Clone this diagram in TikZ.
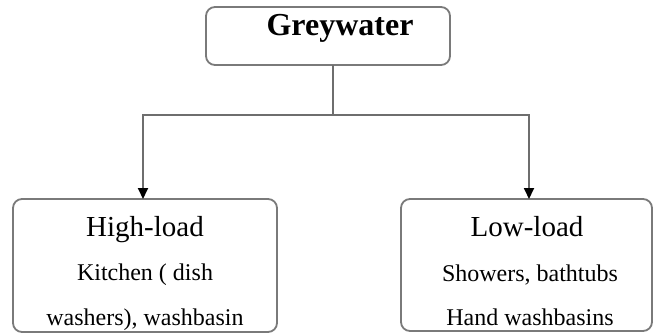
\documentclass[tikz,border=0pt]{standalone}
\usepackage{fontspec}
\setmainfont{Liberation Serif}
\usetikzlibrary{arrows.meta}
\begin{document}
\begin{tikzpicture}[x=1bp,y=-1bp,
  box/.style={draw=boxgrey,line width=1.8bp,rounded corners=9bp,fill=white},
  conn/.style={draw=linegrey,line width=1.8bp},
  arr/.style={conn,-{Triangle[length=11bp,width=10bp,fill=black,color=black]}},
  txt/.style={anchor=base,inner sep=0pt,text=black}]
\definecolor{boxgrey}{HTML}{7A7A7A}
\definecolor{linegrey}{HTML}{6E6E6E}
\useasboundingbox (0,0) rectangle (653,334);
% boxes
\path[box] (206,7) rectangle (450,65);
\coordinate (topS) at (333,65);
\path[box] (13,199) rectangle (277,332);
\path[box] (401,199) rectangle (652,331);
\coordinate (leftN) at (143,199);
\coordinate (rightN) at (529,199);
\coordinate (j) at (333,115);
% connectors
\draw[conn] (topS) -- (j);
\draw[arr] (j) -| (leftN);
\draw[arr] (j) -| (rightN);
% texts
\node[txt,font=\fontsize{32bp}{36bp}\selectfont\bfseries] (tg) at (340,35) {Greywater};
\node[txt,font=\fontsize{29bp}{32bp}\selectfont] (th) at (145,236) {High-load};
\node[txt,font=\fontsize{24bp}{28bp}\selectfont] (tk) at (145,280) {Kitchen ( dish};
\node[txt,font=\fontsize{24bp}{28bp}\selectfont] (tw) at (145,325) {washers), washbasin};
\node[txt,font=\fontsize{29bp}{32bp}\selectfont] (tl) at (527,236) {Low-load};
\node[txt,font=\fontsize{24bp}{28bp}\selectfont] (ts) at (530,281) {Showers, bathtubs};
\node[txt,font=\fontsize{24bp}{28bp}\selectfont] (thw) at (530,325) {Hand washbasins};
\end{tikzpicture}
\end{document}
